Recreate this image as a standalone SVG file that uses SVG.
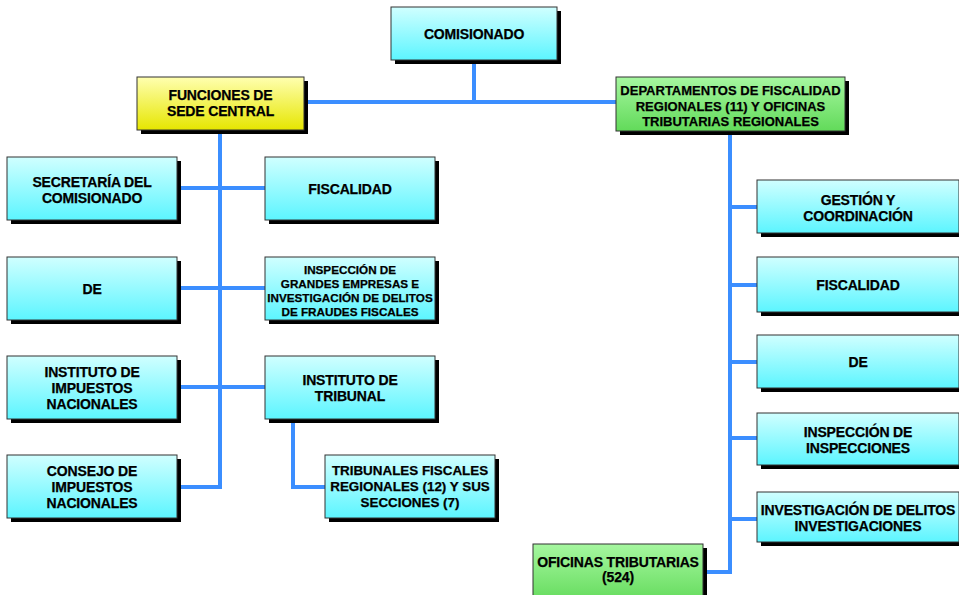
<svg xmlns="http://www.w3.org/2000/svg" width="959" height="595" viewBox="0 0 959 595">
  <defs>
    <linearGradient id="gCyan" x1="0" y1="0" x2="0" y2="1">
      <stop offset="0" stop-color="#d0ffff"/>
      <stop offset="1" stop-color="#5cf5ff"/>
    </linearGradient>
    <linearGradient id="gYellow" x1="0" y1="0" x2="0" y2="1">
      <stop offset="0" stop-color="#ffffb0"/>
      <stop offset="1" stop-color="#e6e600"/>
    </linearGradient>
    <linearGradient id="gGreen" x1="0" y1="0" x2="0" y2="1">
      <stop offset="0" stop-color="#a6f7a0"/>
      <stop offset="1" stop-color="#62da5a"/>
    </linearGradient>
  </defs>
  <style>
    .shadow { fill: #000; }
    .box { stroke: #333; stroke-width: 1; }
    .cyan { fill: url(#gCyan); }
    .yellow { fill: url(#gYellow); }
    .green { fill: url(#gGreen); }
    text { font-family: "Liberation Sans", Arial, sans-serif; font-weight: bold; font-size: 14px; fill: #000; stroke: #000; stroke-width: 0.25; text-anchor: middle; letter-spacing: -0.15px; }
    .small { font-size: 11.7px; letter-spacing: 0; }
    .mid { font-size: 13.4px; letter-spacing: 0; }
    .dept { font-size: 13px; letter-spacing: 0; }
    .conn { fill: none; stroke: #3b8eff; stroke-width: 4; }
  </style>

  <rect width="959" height="595" fill="#fff"/>

  <!-- connectors -->
  <g id="connectors">
    <path class="conn" d="M474 60 V102"/>
    <path class="conn" d="M304 102 H616"/>
    <path class="conn" d="M220 130 V487 H177"/>
    <path class="conn" d="M177 188 H265"/>
    <path class="conn" d="M177 288 H265"/>
    <path class="conn" d="M177 387 H265"/>
    <path class="conn" d="M293 419 V487 H325"/>
    <path class="conn" d="M730 131 V572 H703"/>
    <path class="conn" d="M730 207 H757"/>
    <path class="conn" d="M730 285 H757"/>
    <path class="conn" d="M730 362 H757"/>
    <path class="conn" d="M730 438 H757"/>
    <path class="conn" d="M730 519 H757"/>
  </g>

  <!-- top -->
  <g id="comisionado">
    <rect class="shadow" x="395" y="11" width="166" height="53"/>
    <rect class="box cyan" x="391" y="7" width="166" height="53"/>
    <text x="474" y="39">COMISIONADO</text>
  </g>

  <g id="funciones">
    <rect class="shadow" x="141" y="81" width="167" height="53"/>
    <rect class="box yellow" x="137" y="77" width="167" height="53"/>
    <text x="220.5" y="100">FUNCIONES DE</text>
    <text x="220.5" y="116">SEDE CENTRAL</text>
  </g>

  <g id="departamentos">
    <rect class="shadow" x="620" y="81" width="229" height="54"/>
    <rect class="box green" x="616" y="77" width="229" height="54"/>
    <text class="dept" x="730.5" y="95">DEPARTAMENTOS DE FISCALIDAD</text>
    <text class="dept" x="730.5" y="110.5">REGIONALES (11) Y OFICINAS</text>
    <text class="dept" x="730.5" y="126">TRIBUTARIAS REGIONALES</text>
  </g>

  <!-- left column -->
  <g id="secretaria">
    <rect class="shadow" x="11" y="161" width="170" height="63"/>
    <rect class="box cyan" x="7" y="157" width="170" height="63"/>
    <text x="92" y="187">SECRETARÍA DEL</text>
    <text x="92" y="203">COMISIONADO</text>
  </g>

  <g id="fiscalidad-central">
    <rect class="shadow" x="269" y="161" width="170" height="63"/>
    <rect class="box cyan" x="265" y="157" width="170" height="63"/>
    <text x="350" y="193.5">FISCALIDAD</text>
  </g>

  <g id="de-central">
    <rect class="shadow" x="11" y="261" width="170" height="63"/>
    <rect class="box cyan" x="7" y="257" width="170" height="63"/>
    <text x="92" y="293.5">DE</text>
  </g>

  <g id="inspeccion-grandes">
    <rect class="shadow" x="269" y="261" width="170" height="63"/>
    <rect class="box cyan" x="265" y="257" width="170" height="63"/>
    <text class="small" x="350" y="274">INSPECCIÓN DE</text>
    <text class="small" x="350" y="288">GRANDES EMPRESAS E</text>
    <text class="small" x="350" y="302">INVESTIGACIÓN DE DELITOS</text>
    <text class="small" x="350" y="316">DE FRAUDES FISCALES</text>
  </g>

  <g id="instituto-impuestos">
    <rect class="shadow" x="11" y="360" width="170" height="63"/>
    <rect class="box cyan" x="7" y="356" width="170" height="63"/>
    <text x="92" y="377">INSTITUTO DE</text>
    <text x="92" y="393">IMPUESTOS</text>
    <text x="92" y="409">NACIONALES</text>
  </g>

  <g id="instituto-tribunal">
    <rect class="shadow" x="269" y="360" width="170" height="63"/>
    <rect class="box cyan" x="265" y="356" width="170" height="63"/>
    <text x="350" y="385">INSTITUTO DE</text>
    <text x="350" y="401">TRIBUNAL</text>
  </g>

  <g id="consejo">
    <rect class="shadow" x="11" y="459" width="170" height="63"/>
    <rect class="box cyan" x="7" y="455" width="170" height="63"/>
    <text x="92" y="476">CONSEJO DE</text>
    <text x="92" y="492">IMPUESTOS</text>
    <text x="92" y="508">NACIONALES</text>
  </g>

  <g id="tribunales-fiscales">
    <rect class="shadow" x="329" y="459" width="170" height="63"/>
    <rect class="box cyan" x="325" y="455" width="170" height="63"/>
    <text class="mid" x="410" y="475">TRIBUNALES FISCALES</text>
    <text class="mid" x="410" y="491">REGIONALES (12) Y SUS</text>
    <text class="mid" x="410" y="507">SECCIONES (7)</text>
  </g>

  <!-- right column -->
  <g id="gestion">
    <rect class="shadow" x="761" y="184" width="202" height="53"/>
    <rect class="box cyan" x="757" y="180" width="202" height="53"/>
    <text x="858" y="205">GESTIÓN Y</text>
    <text x="858" y="221">COORDINACIÓN</text>
  </g>

  <g id="fiscalidad-regional">
    <rect class="shadow" x="761" y="261" width="202" height="55"/>
    <rect class="box cyan" x="757" y="257" width="202" height="55"/>
    <text x="858" y="290">FISCALIDAD</text>
  </g>

  <g id="de-regional">
    <rect class="shadow" x="761" y="339" width="202" height="53"/>
    <rect class="box cyan" x="757" y="335" width="202" height="53"/>
    <text x="858" y="367">DE</text>
  </g>

  <g id="inspeccion-inspecciones">
    <rect class="shadow" x="761" y="417" width="202" height="52"/>
    <rect class="box cyan" x="757" y="413" width="202" height="52"/>
    <text x="858" y="437">INSPECCIÓN DE</text>
    <text x="858" y="453">INSPECCIONES</text>
  </g>

  <g id="investigacion-delitos">
    <rect class="shadow" x="761" y="496" width="202" height="50"/>
    <rect class="box cyan" x="757" y="492" width="202" height="50"/>
    <text x="858" y="515">INVESTIGACIÓN DE DELITOS</text>
    <text x="858" y="531">INVESTIGACIONES</text>
  </g>

  <g id="oficinas-tributarias">
    <rect class="shadow" x="537" y="548" width="170" height="60"/>
    <rect class="box green" x="533" y="544" width="170" height="60"/>
    <text x="618" y="567">OFICINAS TRIBUTARIAS</text>
    <text x="618" y="582">(524)</text>
  </g>
</svg>
